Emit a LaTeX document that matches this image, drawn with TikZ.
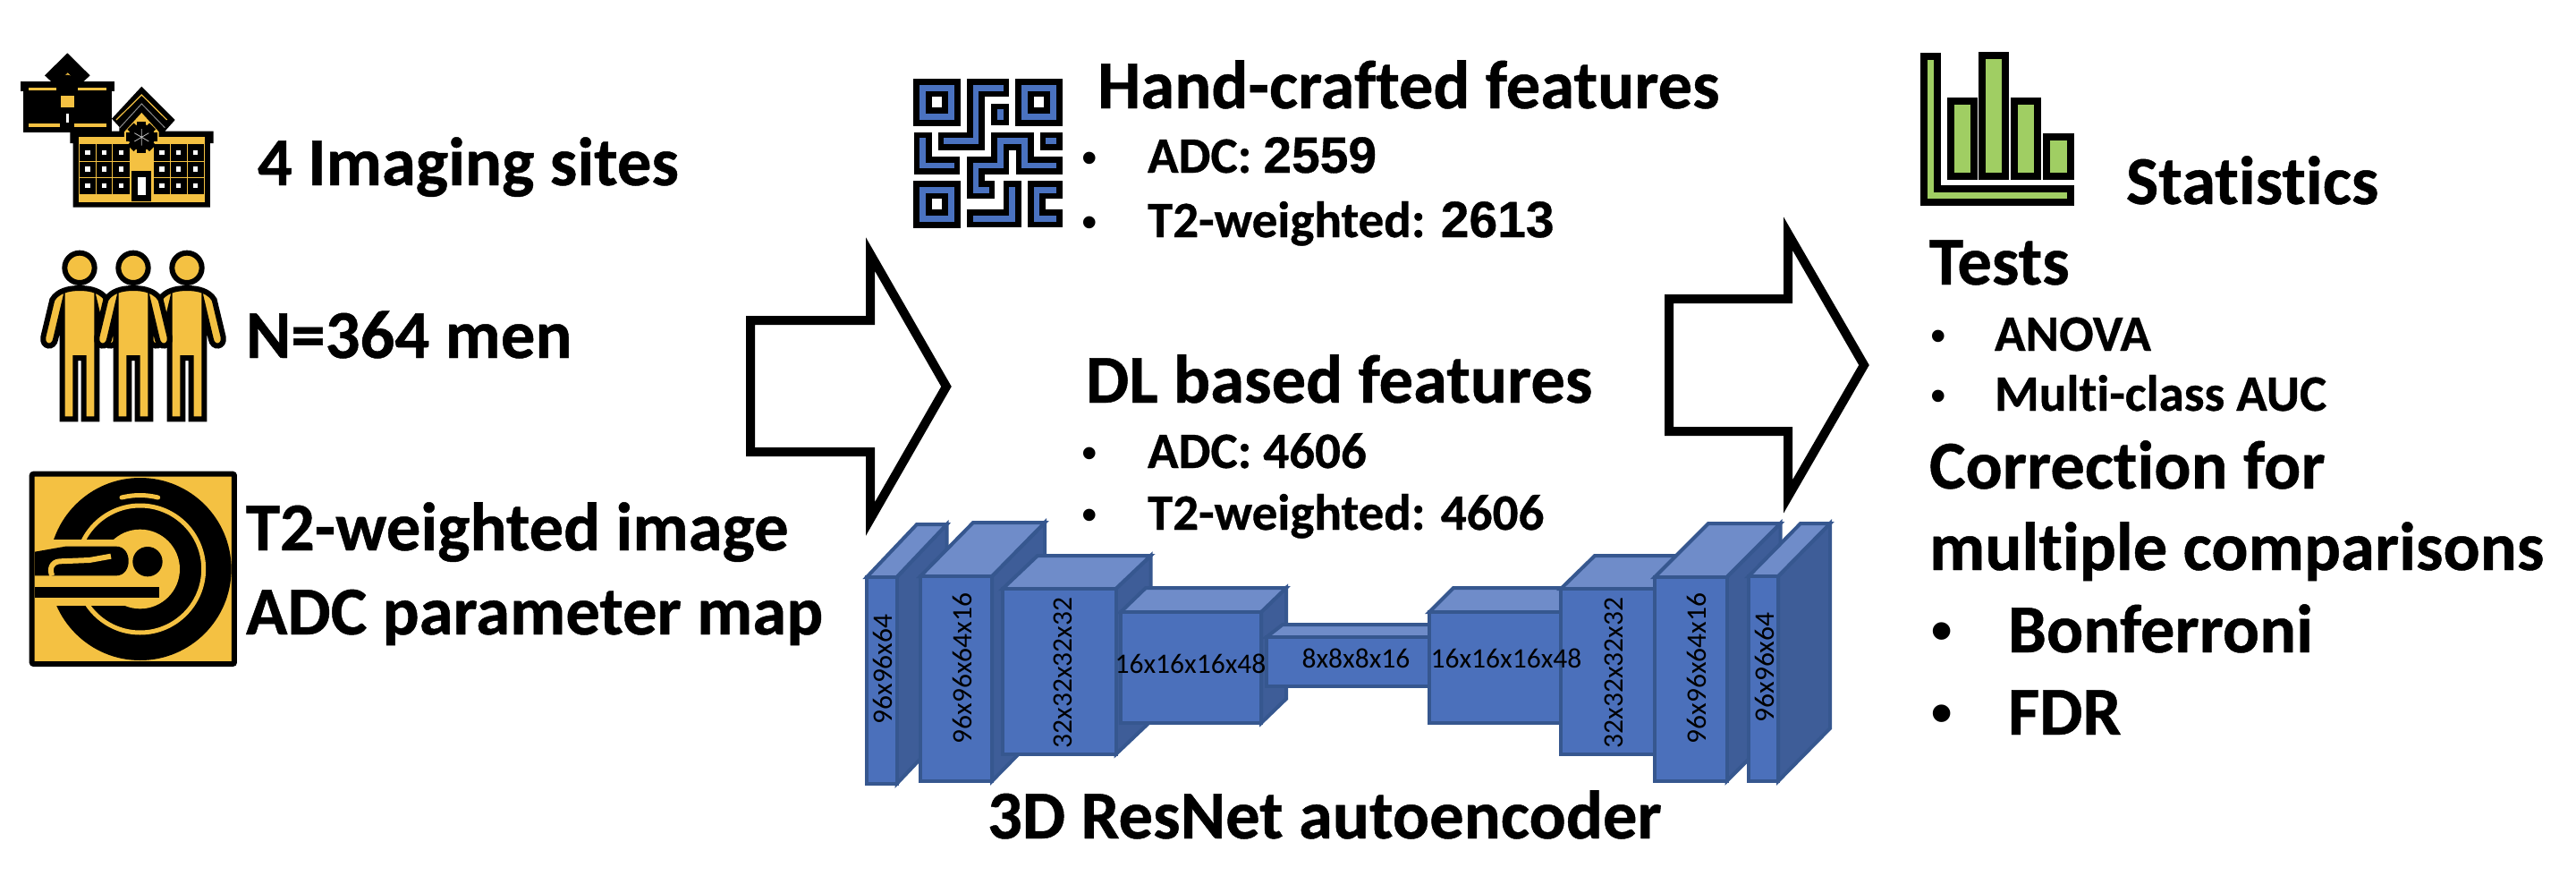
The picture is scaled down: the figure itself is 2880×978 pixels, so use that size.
\documentclass[tikz,border=0pt]{standalone}
\usepackage{fontspec}
\setmainfont[Ligatures=NoCommon,BoldFeatures={FakeBold=0.6}]{Carlito}
\newfontfamily\arialf[BoldFeatures={FakeBold=0.6}]{Liberation Sans}
\newfontfamily\bulletf{Liberation Sans}
\definecolor{gold}{HTML}{F4C142}
\definecolor{qblue}{HTML}{4A72C0}
\definecolor{statgreen}{HTML}{A0CE63}
\definecolor{cfront}{HTML}{4B70BB}
\definecolor{ctop}{HTML}{6F8CC9}
\definecolor{cside}{HTML}{3E5D98}
\definecolor{cedge}{HTML}{36578F}
\newcommand{\fpx}[1]{\fontsize{\the\dimexpr #1pt*2845/10000\relax}{\the\dimexpr #1pt*3/10\relax}\selectfont}
\newcommand{\cuboid}[6]{% x0 y0 x1 y1 dx dy
  \draw[cubeline,fill=cside] (#3,#2) -- ({#3+#5},{#2-#6}) -- ({#3+#5},{#4-#6}) -- (#3,#4) -- cycle;
  \draw[cubeline,fill=ctop] (#1,#2) -- ({#1+#5},{#2-#6}) -- ({#3+#5},{#2-#6}) -- (#3,#2) -- cycle;
  \draw[cubeline,fill=cfront] (#1,#2) rectangle (#3,#4);
}
\newcommand{\person}[1]{%
  \draw[personline] (#1,186) .. controls ({#1-40},186) and ({#1-75},196) .. ({#1-92},225) -- ({#1-122},350)
    .. controls ({#1-128},385) and ({#1-85},392) .. ({#1-80},355) -- ({#1-58},262) -- ({#1-58},625) -- ({#1-14},625)
    -- ({#1-14},420) -- ({#1+14},420) -- ({#1+14},625) -- ({#1+58},625) -- ({#1+58},262) -- ({#1+80},355)
    .. controls ({#1+85},392) and ({#1+128},385) .. ({#1+122},350) -- ({#1+92},225)
    .. controls ({#1+75},196) and ({#1+40},186) .. (#1,186) -- cycle;
  \draw[personline] (#1,118) circle (50);
}
\newcommand{\qrline}[1]{%
  \draw[line width=0.2cm,line cap=rect,miter limit=10] #1;
  \draw[line width=0.0667cm,qblue,line cap=rect,miter limit=10] #1;
}
\newcommand{\qrfinder}[2]{%
  \fill (#1,#2) rectangle ({#1+157},{#2+157});
  \fill[qblue] ({#1+21},{#2+20}) rectangle ({#1+136},{#2+137});
  \fill ({#1+41},{#2+40}) rectangle ({#1+116},{#2+115});
  \fill[white] ({#1+61},{#2+60}) rectangle ({#1+96},{#2+95});
}
\newcommand{\statbar}[3]{%
  \fill (#1,#2) rectangle (#3,482);
  \fill[statgreen] ({#1+24},{#2+24}) rectangle ({#3-24},458);
}
\tikzset{
  x=0.01cm,y=-0.01cm,
  cubeline/.style={draw=cedge,line width=0.04cm,line join=miter},
  personline/.style={draw=black,fill=gold,line width=0.06cm,line join=miter,miter limit=10},
  bigarrow/.style={draw=black,fill=white,line width=0.1cm,line join=miter,miter limit=20},
  lbl/.style={anchor=base west,inner sep=0pt,outer sep=0pt,font=\bfseries\fpx{76.6}},
  sublbl/.style={anchor=base west,inner sep=0pt,outer sep=0pt,font=\bfseries\fpx{57}},
  bul/.style={anchor=base west,inner sep=0pt,outer sep=0pt,font=\bulletf\fpx{50}},
  bigbul/.style={anchor=base west,inner sep=0pt,outer sep=0pt,font=\bulletf\fpx{72}},
  dimlbl/.style={inner sep=0pt,outer sep=0pt,font=\fpx{31.5}},
  dimv/.style={dimlbl,rotate=90},
}
\begin{document}
\begin{tikzpicture}
\useasboundingbox (0,0) rectangle (2880,978);
% --- schools
\begin{scope}[shift={(0,30)},scale=1/3]
  \fill (150,163) -- (226,88) -- (302,163) -- (262,200) -- (190,200) -- cycle;
  \fill (70,184) rectangle (383,217);
  \fill (77,217) rectangle (375,353);
  \fill[gold] (96,203) rectangle (190,213);
  \fill[gold] (262,203) rectangle (357,213);
  \fill[gold] (96,325) rectangle (202,335);
  \fill[gold] (250,325) rectangle (357,335);
  \fill[gold] (215,166) -- (227,154) -- (239,166) -- cycle;
  \fill (226,197) circle (36);
  \fill[gold] (204,232) rectangle (249,270);
  \fill[white] (221,290) rectangle (232,320);
  \fill (375,308) -- (475,200) -- (587,312) -- (553,350) -- (716,350) -- (716,390) -- (705,390) -- (705,605) -- (245,605) -- (245,390) -- (235,390) -- (235,350) -- (400,350) -- (400,335) -- cycle;
  \draw[gold,line width=0.012cm] (390,312) -- (475,228) -- (560,312);
  \draw[black!45,line width=0.01cm] (400,340) -- (475,258) -- (553,338);
  \fill[gold] (265,370) rectangle (687,587);
  \fill[gold] (417,372) -- (417,352) -- (475,288) -- (533,352) -- (533,372) -- cycle;
  \foreach \wx/\wa/\wb in {267/322/378,516/571/628}{
    \fill (\wx,394) rectangle ({\wx+168},562);
    \draw[gold,line width=0.01cm] (\wa,394) -- (\wa,562) (\wb,394) -- (\wb,562) (\wx,450) -- ({\wx+168},450) (\wx,506) -- ({\wx+168},506);
    \foreach \ca in {27,83,139}\foreach \cb in {421,477,533}
      \fill[white] ({\wx+\ca-8},{\cb-8}) rectangle ({\wx+\ca+8},{\cb+8});
  }
  \fill (442,484) rectangle (508,584);
  \fill[white] (463,504) rectangle (489,564);
  \fill (475,370) circle (44);
  \foreach \ang in {0,45,...,315}
    \fill[rotate around={\ang:(475,370)}] (460,318) rectangle (490,340);
  \draw[black!25,line width=0.008cm] (475,342) -- (475,398) (451,356) -- (499,384) (451,384) -- (499,356);
\end{scope}
% --- people
\begin{scope}[shift={(0,260)},scale=1/3]
  \person{267}
  \person{627}
  \person{447}
\end{scope}
% --- MRI
\begin{scope}[shift={(0,260)},scale=1/3]
  \fill[gold] (107,809) rectangle (786,1446);
  \fill (470,1128) circle (306);
  \draw[gold,line width=0.05cm] (470,1128) circle (213);
  \fill[gold] (117,1028) rectangle (430,1250);
  \fill[gold] (470,1128) circle (133);
  \fill (117,1070) -- (220,1052) -- (390,1052) .. controls (445,1052) and (445,1150) .. (390,1150) -- (117,1150) -- cycle;
  \draw[gold,line width=0.06cm] (372,1085) -- (300,1098) -- (200,1102) .. controls (172,1104) and (165,1130) .. (175,1150);
  \fill (495,1103) circle (50);
  \fill (117,1187) rectangle (535,1225);
  \draw[gold,line width=0.05cm,line cap=round] (408,888) .. controls (450,878) and (490,878) .. (530,888);
  \draw[line width=0.06cm,rounded corners=0.02cm] (107,809) rectangle (786,1446);
\end{scope}
% --- QR icon
\begin{scope}[shift={(980,60)},scale=1/3]
  \qrfinder{124}{85}
  \qrfinder{466}{85}
  \qrfinder{124}{427}
  \qrline{(415,115) -- (333,115) -- (333,293) -- (236,293)}
  \qrline{(415,197) -- (415,211)}
  \qrline{(578,293) -- (593,293)}
  \qrline{(155,293) -- (155,375) -- (250,375)}
  \qrline{(593,375) -- (497,375) -- (497,293) -- (415,293) -- (415,375) -- (333,375) -- (333,457) -- (367,457)}
  \qrline{(455,457) -- (455,553) -- (333,553)}
  \qrline{(593,457) -- (537,457) -- (537,553) -- (593,553)}
\end{scope}
% --- stats icon
\begin{scope}[shift={(2120,40)},scale=1/3]
  \draw[line width=0.2267cm,line cap=rect] (116,90) -- (116,535) -- (562,535);
  \draw[statgreen,line width=0.0667cm,line cap=rect] (116,90) -- (116,535) -- (562,535);
  \statbar{170}{207}{272}
  \statbar{277}{55}{379}
  \statbar{385}{207}{487}
  \statbar{492}{328}{596}
\end{scope}
% --- arrows
\draw[bigarrow] (839,358) -- (973,358) -- (973,284) -- (1058,432) -- (973,580) -- (973,505) -- (839,505) -- cycle;
\draw[bigarrow] (1866,334) -- (1999,334) -- (1999,261) -- (2084,408) -- (1999,555) -- (1999,482) -- (1866,482) -- cycle;
% --- autoencoder
\cuboid{969}{645}{1002.5}{876}{56}{59}
\cuboid{1029}{644}{1109}{873}{59}{60}
\cuboid{1121}{658}{1247.5}{843}{39}{37}
\cuboid{1253}{684}{1410}{808}{28}{27}
\cuboid{1416}{712}{1598}{767}{18}{14}
\cuboid{1598}{684}{1755}{808}{27}{27}
\cuboid{1745}{658}{1872}{843}{38}{37}
\cuboid{1850}{645}{1930.5}{873}{60}{60}
\cuboid{1955}{644}{1988}{873}{58}{59}
\node[dimv] (d1) at (987,748) {96x96x64};
\node[dimv] (d2) at (1076,747) {96x96x64x16};
\node[dimv] (d3) at (1188.6,752) {32x32x32x32};
\node[dimlbl] (d4) at (1331,742) {16x16x16x48};
\node[dimlbl] (d5) at (1516,736) {8x8x8x16};
\node[dimlbl] (d6) at (1684,736) {16x16x16x48};
\node[dimv] (d7) at (1804,752) {32x32x32x32};
\node[dimv] (d8) at (1897,747) {96x96x64x16};
\node[dimv] (d9) at (1973,746) {96x96x64};
% --- left texts
\node[lbl] (t1) at (288,207) {4 Imaging sites};
\node[lbl] (t2) at (275,400) {N=364 men};
\node[lbl] (t3) at (275,615) {T2-weighted image};
\node[lbl] (t4) at (275,709) {ADC parameter map};
% --- middle texts
\node[lbl] (h1) at (1227,121) {Hand-crafted features};
\node[bul] (b1) at (1209,193) {•};
\node[sublbl] (i1) at (1283,193) {ADC: {\arialf 2559}};
\node[bul] (b2) at (1209,265) {•};
\node[sublbl] (i2) at (1283,265) {T2-weighted: {\arialf 2613}};
\node[lbl] (h2) at (1214,450) {DL based features};
\node[bul] (b3) at (1209,523) {•};
\node[sublbl] (i3) at (1283,523) {ADC: 4606};
\node[bul] (b4) at (1209,592) {•};
\node[sublbl] (i4) at (1283,592) {T2-weighted: 4606};
\node[lbl] (ae) at (1104,937) {3D ResNet autoencoder};
% --- right texts
\node[lbl] (s0) at (2377,228) {Statistics};
\node[lbl] (s1) at (2157,318) {Tests};
\node[bul] (b5) at (2158,392) {•};
\node[sublbl] (s2) at (2230,392) {ANOVA};
\node[bul] (b6) at (2158,459) {•};
\node[sublbl] (s3) at (2230,459) {Multi-class AUC};
\node[lbl] (s4) at (2157,546) {Correction for};
\node[lbl] (s5) at (2157,637) {multiple comparisons};
\node[bigbul] (b7) at (2158,729) {•};
\node[lbl] (s6) at (2245,729) {Bonferroni};
\node[bigbul] (b8) at (2158,821) {•};
\node[lbl] (s7) at (2245,821) {FDR};
\end{tikzpicture}
\end{document}
